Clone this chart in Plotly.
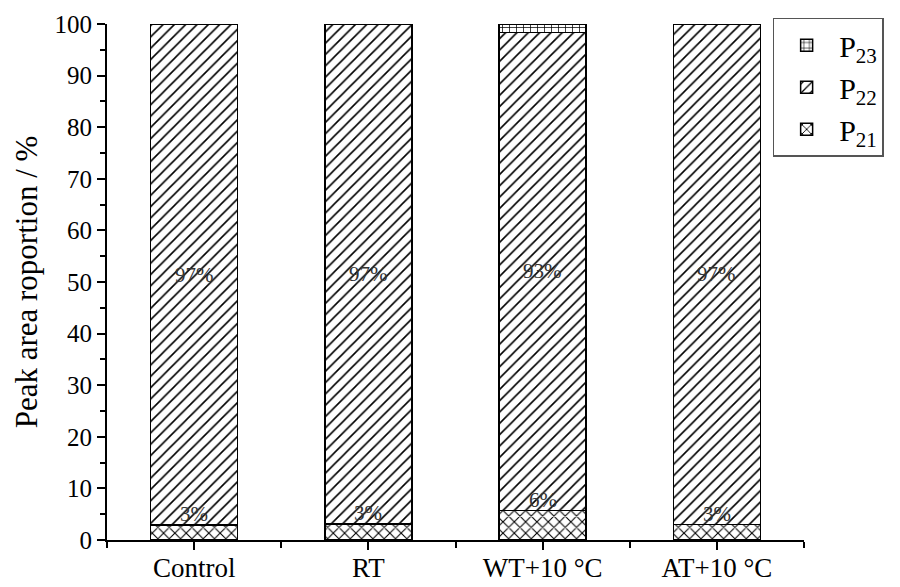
import plotly.graph_objects as go

categories = ["Control", "RT", "WT+10 °C", "AT+10 °C"]
p21 = [2.9, 3.1, 5.7, 3.0]
p22 = [97.1, 96.9, 92.7, 97.0]
p23 = [0.0, 0.0, 1.6, 0.0]
p21_labels = ["3%", "3%", "6%", "3%"]
p22_labels = ["97%", "97%", "93%", "97%"]

xpos = list(range(len(categories)))
FONT = "Liberation Serif, Times New Roman, serif"

fig = go.Figure()
series = [
    ("P<sub>21</sub>", p21, "x", 8, 0.25),
    ("P<sub>22</sub>", p22, "/", 8, 0.2),
    ("P<sub>23</sub>", p23, "+", 7, 0.2),
]
for name, vals, shape, size, sol in series:
    fig.add_trace(go.Bar(
        x=xpos, y=vals, name=name, width=0.5,
        marker=dict(color="white", opacity=1, line=dict(color="black", width=1.5),
                    pattern=dict(shape=shape, size=size, solidity=sol,
                                 fgcolor="black", fgopacity=1, bgcolor="white",
                                 fillmode="overlay")),
    ))

annotations = []
for i in xpos:
    annotations.append(dict(x=i, y=p21[i], text=p21_labels[i], showarrow=False,
                            yanchor="bottom", yshift=-3, xref="x", yref="y",
                            font=dict(family=FONT, size=21, color="#333")))
    annotations.append(dict(x=i, y=p21[i] + p22[i] / 2, text=p22_labels[i], showarrow=False,
                            xref="x", yref="y",
                            font=dict(family=FONT, size=21, color="#333")))

fig.update_layout(
    barmode="stack",
    width=900, height=587,
    margin=dict(l=107, r=96, t=24, b=47, autoexpand=False),
    paper_bgcolor="white", plot_bgcolor="white",
    font=dict(family=FONT, size=26, color="black"),
    annotations=annotations,
    legend=dict(x=0.955, y=1.012, xanchor="left", yanchor="top",
                traceorder="reversed", bordercolor="#555", borderwidth=1.5,
                font=dict(family=FONT, size=30), bgcolor="white",
                tracegroupgap=0, itemwidth=55),
    xaxis=dict(range=[-0.5, 3.5], tickmode="array", tickvals=xpos, ticktext=categories,
               showline=True, linecolor="black", linewidth=2, mirror=False,
               ticks="outside", ticklen=8, tickwidth=2, tickcolor="black",
               showgrid=False, zeroline=False, automargin=False,
               ticklabelstandoff=-5,
               minor=dict(tickmode="linear", tick0=-0.5, dtick=1, ticks="outside",
                          ticklen=6, tickwidth=2, tickcolor="black", showgrid=False),
               tickfont=dict(family=FONT, size=27)),
    yaxis=dict(range=[0, 100], tickmode="linear", tick0=0, dtick=10,
               showline=True, linecolor="black", linewidth=2,
               ticks="outside", ticklen=8, tickwidth=2, tickcolor="black",
               showgrid=False, zeroline=False, automargin=False,
               minor=dict(tickmode="linear", tick0=5, dtick=10, ticks="outside",
                          ticklen=5, tickwidth=2, tickcolor="black", showgrid=False),
               title=dict(text="Peak area roportion / %", font=dict(family=FONT, size=31),
                          standoff=8),
               tickfont=dict(family=FONT, size=25)),
)

fig.write_html("out.html")
